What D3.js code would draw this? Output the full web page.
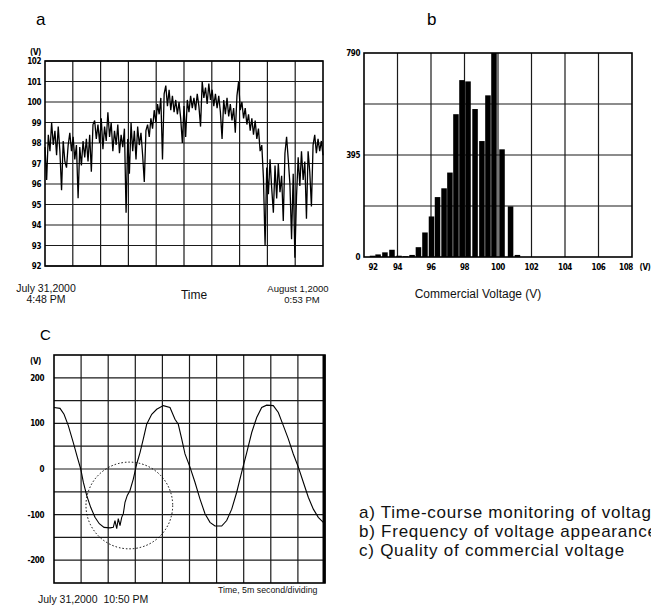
<!DOCTYPE html>
<html lang="en">
<head>
<meta charset="UTF-8">
<script src="https://d3js.org/d3.v7.min.js"></script>
<title>Commercial voltage</title>
<style>
  body { margin: 0; background: #fff; }
  svg { display: block; font-family: "Liberation Sans", Arial, sans-serif; }
  .grid line { stroke: #1a1a1a; stroke-width: 1.2; }
  .frame { fill: none; stroke: #000; stroke-width: 1.6; }
  .tick { font-family: "Liberation Sans Narrow", "DejaVu Sans Condensed", "Liberation Sans", sans-serif;
          font-size: 8px; font-weight: bold; letter-spacing: -0.4px; }
  .lbl { font-size: 11px; fill: #111; white-space: pre; }
  .panel { font-size: 17px; }
  .caption { font-size: 17px; letter-spacing: 0.75px; fill: #111; }
</style>
</head>
<body>
<div id="chart"></div>
<script>
// ---- a) voltage vs time, July 31 4:48 PM -> Aug 1 0:53 PM ----
const voltageSeries = [
  97.8, 96.2, 98.4, 97.6, 99.0, 97.9, 98.6, 97.4, 98.8, 97.6,
  95.7, 98.1, 97.1, 96.8, 97.9, 98.5, 97.6, 98.3, 97.2, 97.9,
  95.3, 97.8, 96.9, 98.1, 97.3, 98.2, 97.1, 98.4, 96.6, 98.9,
  99.1, 98.2, 98.9, 98.0, 99.2, 97.7, 98.8, 98.1, 99.5, 98.3,
  99.0, 97.6, 98.6, 97.9, 98.9, 97.5, 98.4, 97.8, 98.7, 94.6,
  98.2, 96.5, 99.0, 97.6, 98.6, 97.2, 98.8, 97.9, 98.5, 97.4,
  96.1, 98.6, 98.9, 98.3, 99.2, 98.7, 99.6, 99.0, 99.9, 99.4,
  100.2, 97.2, 100.4, 100.8, 99.8, 100.6, 99.6, 100.3, 99.5, 100.1,
  99.4, 100.0, 99.2, 98.0, 99.8, 98.3, 100.1, 99.5, 100.3, 99.7,
  100.2, 99.6, 100.4, 99.8, 98.8, 101.0, 100.2, 100.7, 99.9, 100.9,
  100.1, 100.6, 99.8, 100.4, 99.7, 100.3, 99.5, 98.2, 100.1, 99.4,
  100.2, 99.3, 99.9, 99.1, 99.7, 98.5, 100.3, 101.0, 99.6, 100.0,
  99.2, 99.7, 98.9, 99.4, 98.6, 99.2, 98.4, 99.1, 98.2, 98.7,
  97.6, 97.9, 96.3, 93.0, 96.8, 95.5, 97.2, 95.8, 94.6, 96.9,
  95.3, 97.0, 95.6, 96.4, 94.2, 97.5, 98.3, 97.2, 96.0, 93.3,
  96.5, 92.4, 95.4, 97.3, 95.9, 97.6, 96.2, 97.1, 94.3, 97.6,
  96.6, 94.9, 97.9, 98.4, 97.5, 98.2, 97.6, 98.1, 97.4
];
const voltageTicks = [92, 93, 94, 95, 96, 97, 98, 99, 100, 101, 102];

// ---- b) frequency of voltage appearance ----
const histBins = [92.51, 92.84, 93.25, 93.67, 94.09, 94.48, 94.87, 95.25, 95.64, 96.03,
  96.39, 96.78, 97.13, 97.49, 97.85, 98.21, 98.63, 99.04, 99.40, 99.76,
  100.24, 100.75, 101.16];
const histCounts = [5, 10, 18, 28, 5, 3, 8, 38, 95, 157,
  232, 266, 327, 553, 685, 680, 573, 449, 626, 790,
  417, 196, 8];
const histTicks = [92, 94, 96, 98, 100, 102, 104, 106, 108];
const countTicks = [0, 395, 790];

// ---- c) waveform, 5 ms / division ----
const waveTime = [0, 1.11, 1.85, 2.64, 3.56, 4.30, 4.93, 5.41, 6.03, 6.77,
  7.56, 8.36, 9.23, 10.33, 10.94, 11.25, 11.57, 11.86, 12.18, 12.49,
  12.79, 13.10, 13.52, 14.02, 14.63, 15.26, 15.87, 16.48, 17.10, 18.03,
  18.95, 20.17, 21.40, 22.32, 22.93, 23.56, 24.17, 25.09, 26.01, 26.94,
  27.86, 28.78, 29.70, 30.94, 31.86, 32.79, 33.71, 34.63, 35.56, 36.48,
  37.40, 38.32, 39.24, 40.46, 41.39, 42.31, 43.23, 44.15, 45.08, 46.00,
  46.92, 47.85, 48.76, 49.69];
const waveVolts = [135, 133, 120, 95, 58, 26, 0, -29, -58, -84,
  -106, -120, -128, -129, -128, -113, -131, -109, -124, -106,
  -98, -73, -58, -47, -22, 11, 36, 66, 98, 120,
  131, 139, 135, 109, 98, 66, 33, 4, -29, -66,
  -98, -117, -125, -125, -113, -88, -51, -7, 36, 80,
  113, 135, 140, 139, 124, 95, 66, 33, 4, -29,
  -62, -88, -106, -117];
const waveTicks = [-200, -100, 0, 100, 200];
const dipCenter = [13.9, -80];   // dotted circle around the distortion
const dipRadiusMs = 8;

const svg = d3.select("#chart").append("svg")
  .attr("width", 651).attr("height", 608);
svg.append("rect").attr("width", 651).attr("height", 608).attr("fill", "#fff");

function grid(g, xs, ys, x0, x1, y0, y1) {
  const gg = g.append("g").attr("class", "grid");
  gg.selectAll(".v").data(xs).join("line").attr("class", "v")
    .attr("x1", d => d).attr("x2", d => d).attr("y1", y0).attr("y2", y1);
  gg.selectAll(".h").data(ys).join("line").attr("class", "h")
    .attr("x1", x0).attr("x2", x1).attr("y1", d => d).attr("y2", d => d);
  g.append("rect").attr("class", "frame")
    .attr("x", x0).attr("y", y1).attr("width", x1 - x0).attr("height", y0 - y1);
}

// ---------- panel a ----------
const a = svg.append("g");
const ax = d3.scaleLinear().domain([0, voltageSeries.length - 1]).range([45, 323]);
const ay = d3.scaleLinear().domain([92, 102]).range([266, 61]);
const aDiv = d3.scaleLinear().domain([0, 10]).range([45, 323]);
grid(a, d3.range(1, 10).map(aDiv), voltageTicks.map(ay), 45, 323, 266, 61);
a.append("path")
  .datum(voltageSeries)
  .attr("fill", "none").attr("stroke", "#000").attr("stroke-width", 1.3)
  .attr("d", d3.line().x((d, i) => ax(i)).y(d => ay(d)));
a.selectAll(".ty").data(voltageTicks).join("text").attr("class", "tick")
  .attr("x", 41).attr("y", d => ay(d) + 3).attr("text-anchor", "end").text(d => d);
a.append("text").attr("class", "tick").attr("x", 41).attr("y", 55).attr("text-anchor", "end").text("(V)");
a.append("text").attr("class", "panel").attr("x", 36).attr("y", 25).text("a");
a.append("text").attr("class", "lbl").attr("x", 46).attr("y", 292).attr("text-anchor", "middle").style("font-size", "10.5px").text("July 31,2000");
a.append("text").attr("class", "lbl").attr("x", 46).attr("y", 303).attr("text-anchor", "middle").style("font-size", "10.5px").text("4:48 PM");
a.append("text").attr("class", "lbl").attr("x", 194).attr("y", 299).attr("text-anchor", "middle").style("font-size", "12px").text("Time");
a.append("text").attr("class", "lbl").attr("x", 298).attr("y", 292).attr("text-anchor", "middle").style("font-size", "9.5px").text("August 1,2000");
a.append("text").attr("class", "lbl").attr("x", 302).attr("y", 303).attr("text-anchor", "middle").style("font-size", "9.5px").text("0:53 PM");

// ---------- panel b ----------
const b = svg.append("g");
const bx = d3.scaleLinear().domain([92, 108]).range([364, 632]);
const by = d3.scaleLinear().domain([0, 790]).range([257, 53]);
grid(b, histTicks.slice(1, -1).map(bx), [197.5, 395, 592.5].map(by), 364, 632, 257, 53);
const barW = bx(92.33) - bx(92);
b.selectAll(".bar").data(histBins).join("rect").attr("class", "bar")
  .attr("x", d => bx(d) - barW / 2).attr("width", barW)
  .attr("y", (d, i) => by(histCounts[i]))
  .attr("height", (d, i) => by(0) - by(histCounts[i]))
  .attr("fill", "#000");
b.selectAll(".ty").data(countTicks).join("text").attr("class", "tick")
  .attr("x", 360).attr("y", d => by(d) + 3).attr("text-anchor", "end").text(d => d);
b.selectAll(".tx").data(histTicks).join("text").attr("class", "tick")
  .attr("x", (d, i) => bx(d) + (i === 0 ? 9 : i === histTicks.length - 1 ? -6 : 0))
  .attr("y", 270).attr("text-anchor", "middle").text(d => d);
b.append("text").attr("class", "tick").attr("x", 645).attr("y", 270).attr("text-anchor", "middle").text("(V)");
b.append("text").attr("class", "panel").attr("x", 427).attr("y", 25).text("b");
b.append("text").attr("class", "lbl").attr("x", 478).attr("y", 298).attr("text-anchor", "middle")
  .style("font-size", "12px").text("Commercial Voltage (V)");

// ---------- panel c ----------
const c = svg.append("g");
const cx = d3.scaleLinear().domain([0, 50]).range([54, 325]);
const cy = d3.scaleLinear().domain([-250, 250]).range([583, 355]);
grid(c, d3.range(5, 50, 5).map(cx), d3.range(-200, 250, 50).map(cy), 54, 325, 583, 355);
c.append("line").attr("x1", 324).attr("x2", 324).attr("y1", 355).attr("y2", 583)
  .attr("stroke", "#000").attr("stroke-width", 3);
c.append("path")
  .datum(waveTime)
  .attr("fill", "none").attr("stroke", "#000").attr("stroke-width", 1.1)
  .attr("d", d3.line().x(d => cx(d)).y((d, i) => cy(waveVolts[i])));
c.append("circle")
  .attr("cx", cx(dipCenter[0])).attr("cy", cy(dipCenter[1]))
  .attr("r", cx(dipRadiusMs) - cx(0))
  .attr("fill", "none").attr("stroke", "#000").attr("stroke-width", 1)
  .attr("stroke-dasharray", "1.5,2");
c.selectAll(".ty").data(waveTicks).join("text").attr("class", "tick")
  .attr("x", 44).attr("y", d => cy(d) + 3).attr("text-anchor", "end").text(d => d);
c.append("text").attr("class", "tick").attr("x", 41).attr("y", 364).attr("text-anchor", "end").text("(V)");
c.append("text").attr("class", "panel").attr("x", 40).attr("y", 340).style("font-size", "15px").text("C");
c.append("text").attr("class", "lbl").attr("x", 38).attr("y", 603).style("font-size", "10.5px")
  .text("July 31,2000  10:50 PM");
c.append("text").attr("class", "lbl").attr("x", 218).attr("y", 593).style("font-size", "8.8px")
  .text("Time, 5m second/dividing");

// ---------- captions ----------
const caps = ["a) Time-course monitoring of voltage", "b) Frequency of voltage appearance", "c) Quality of commercial voltage"];
svg.selectAll(".caption").data(caps).join("text").attr("class", "caption")
  .attr("x", 359).attr("y", (d, i) => 518 + i * 19).text(d => d);
</script>
</body>
</html>
